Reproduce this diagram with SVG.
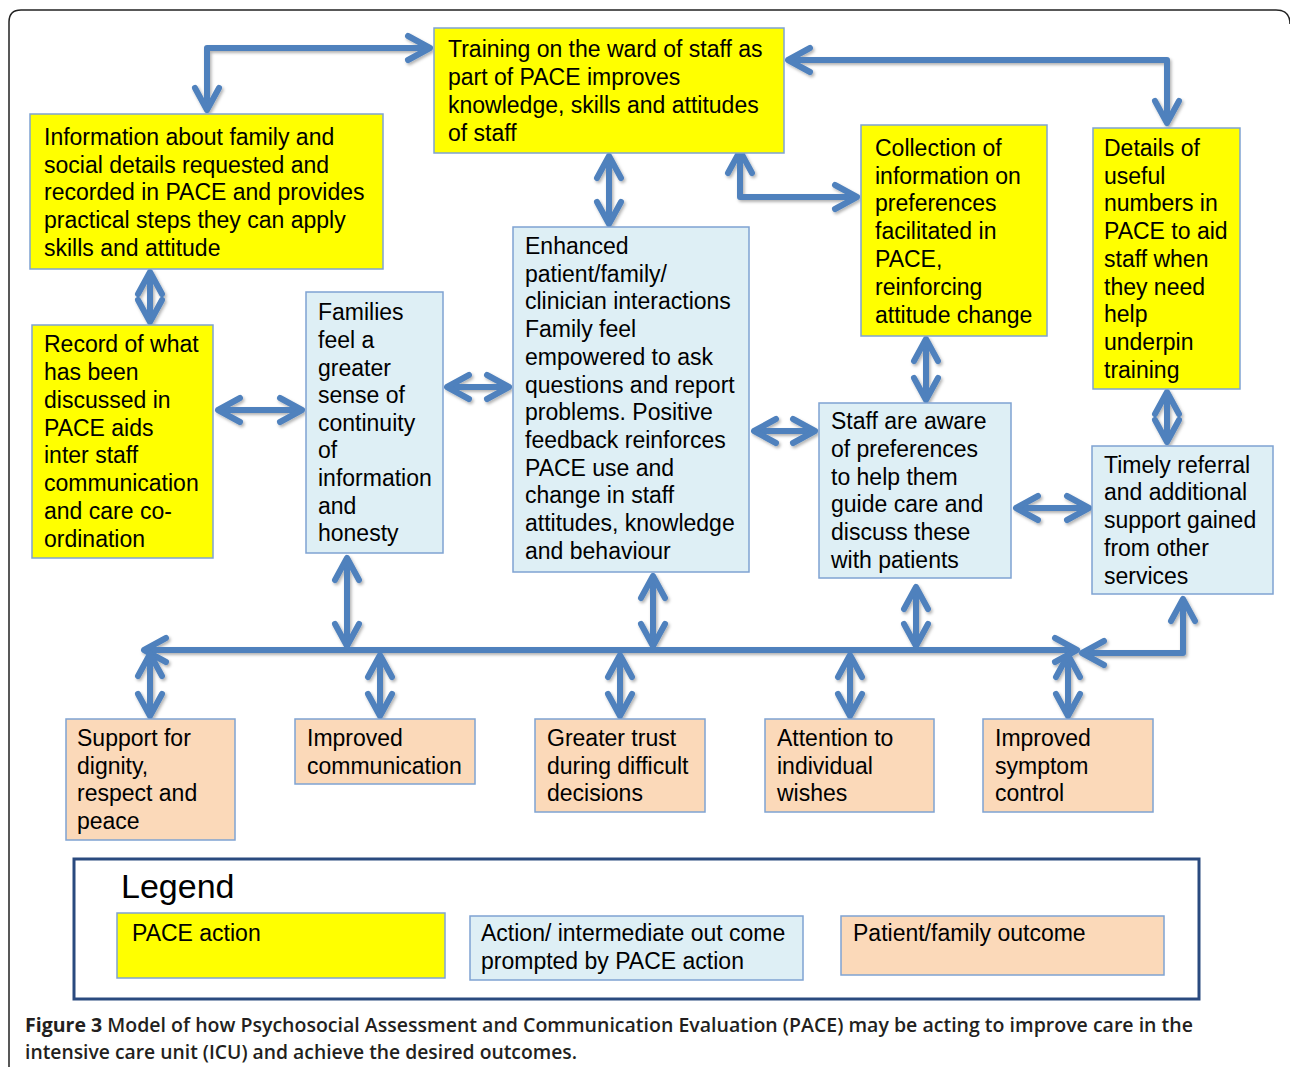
<svg xmlns="http://www.w3.org/2000/svg" width="1290" height="1067" viewBox="0 0 1290 1067">
<defs>
<style>
.t{font-family:"Liberation Sans",Arial,Helvetica,sans-serif;font-size:23px;fill:#000}
.y{fill:#FFFF00;stroke:#7FA3D2;stroke-width:1.5}
.b{fill:#DEEFF5;stroke:#7FA3D2;stroke-width:1.5}
.p{fill:#FBD9B9;stroke:#7FA3D2;stroke-width:1.5}
.c{fill:none;stroke:#4F81BD;stroke-width:6;stroke-linejoin:round}
.cap{font-family:"Open Sans","Liberation Sans",sans-serif;font-size:19px;font-weight:600;fill:#231F20}
</style>
<marker id="ah" viewBox="-28 -16 32 32" refX="0" refY="0" markerWidth="32" markerHeight="32" markerUnits="userSpaceOnUse" orient="auto-start-reverse" overflow="visible">
<path d="M-22,-12 L0,0 L-22,12" fill="none" stroke="#4F81BD" stroke-width="6" stroke-linecap="round" stroke-linejoin="round"/>
</marker>
<filter id="sh" x="-10%" y="-10%" width="120%" height="120%">
<feDropShadow dx="1.5" dy="2" stdDeviation="1.5" flood-color="#000" flood-opacity="0.3"/>
</filter>
</defs>
<rect width="1290" height="1067" fill="#fff"/>
<path d="M9,1067 L9,22 Q9,10 21,10 L1276,10 Q1290,10 1290,24" fill="none" stroke="#222" stroke-width="1.5"/>

<g id="connectors" filter="url(#sh)">
<path class="c" d="M207,110 L207,48 L430,48" marker-start="url(#ah)" marker-end="url(#ah)"/>
<path class="c" d="M788,60 L1167,60 L1167,123" marker-start="url(#ah)" marker-end="url(#ah)"/>
<path class="c" d="M609,156 L609,224" marker-start="url(#ah)" marker-end="url(#ah)"/>
<path class="c" d="M740,151 L740,197 L857,197" marker-start="url(#ah)" marker-end="url(#ah)"/>
<path class="c" d="M150,272 L150,322" marker-start="url(#ah)" marker-end="url(#ah)"/>
<path class="c" d="M218,410 L302,410" marker-start="url(#ah)" marker-end="url(#ah)"/>
<path class="c" d="M447,387 L509,387" marker-start="url(#ah)" marker-end="url(#ah)"/>
<path class="c" d="M754,431 L815,431" marker-start="url(#ah)" marker-end="url(#ah)"/>
<path class="c" d="M926,339 L926,400" marker-start="url(#ah)" marker-end="url(#ah)"/>
<path class="c" d="M1167,392 L1167,442" marker-start="url(#ah)" marker-end="url(#ah)"/>
<path class="c" d="M1016,508 L1089,508" marker-start="url(#ah)" marker-end="url(#ah)"/>
<path class="c" d="M144,650 L1077,650" marker-start="url(#ah)" marker-end="url(#ah)"/>
<path class="c" d="M1183,599 L1183,653 L1082,653" marker-start="url(#ah)" marker-end="url(#ah)"/>
<path class="c" d="M347,558 L347,646" marker-start="url(#ah)" marker-end="url(#ah)"/>
<path class="c" d="M653,576 L653,646" marker-start="url(#ah)" marker-end="url(#ah)"/>
<path class="c" d="M916,587 L916,646" marker-start="url(#ah)" marker-end="url(#ah)"/>
<path class="c" d="M150,654 L150,716" marker-start="url(#ah)" marker-end="url(#ah)"/>
<path class="c" d="M380,655 L380,716" marker-start="url(#ah)" marker-end="url(#ah)"/>
<path class="c" d="M620,655 L620,716" marker-start="url(#ah)" marker-end="url(#ah)"/>
<path class="c" d="M850,655 L850,716" marker-start="url(#ah)" marker-end="url(#ah)"/>
<path class="c" d="M1068,655 L1068,716" marker-start="url(#ah)" marker-end="url(#ah)"/>
</g>

<g id="training">
<rect class="y" x="434" y="28" width="350" height="125"/>
<text class="t"><tspan x="448" y="57">Training on the ward of staff as</tspan><tspan x="448" y="85">part of PACE improves</tspan><tspan x="448" y="113">knowledge, skills and attitudes</tspan><tspan x="448" y="141">of staff</tspan></text>
</g>
<g id="information">
<rect class="y" x="30" y="114" width="353" height="155"/>
<text class="t"><tspan x="44" y="145">Information about family and</tspan><tspan x="44" y="173">social details requested and</tspan><tspan x="44" y="200">recorded in PACE and provides</tspan><tspan x="44" y="228">practical steps they can apply</tspan><tspan x="44" y="256">skills and attitude</tspan></text>
</g>
<g id="collection">
<rect class="y" x="861" y="125" width="186" height="211"/>
<text class="t"><tspan x="875" y="156">Collection of</tspan><tspan x="875" y="184">information on</tspan><tspan x="875" y="211">preferences</tspan><tspan x="875" y="239">facilitated in</tspan><tspan x="875" y="267">PACE,</tspan><tspan x="875" y="295">reinforcing</tspan><tspan x="875" y="323">attitude change</tspan></text>
</g>
<g id="details">
<rect class="y" x="1093" y="128" width="147" height="261"/>
<text class="t"><tspan x="1104" y="156">Details of</tspan><tspan x="1104" y="184">useful</tspan><tspan x="1104" y="211">numbers in</tspan><tspan x="1104" y="239">PACE to aid</tspan><tspan x="1104" y="267">staff when</tspan><tspan x="1104" y="295">they need</tspan><tspan x="1104" y="322">help</tspan><tspan x="1104" y="350">underpin</tspan><tspan x="1104" y="378">training</tspan></text>
</g>
<g id="record">
<rect class="y" x="32" y="325" width="181" height="233"/>
<text class="t"><tspan x="44" y="352">Record of what</tspan><tspan x="44" y="380">has been</tspan><tspan x="44" y="408">discussed in</tspan><tspan x="44" y="436">PACE aids</tspan><tspan x="44" y="463">inter staff</tspan><tspan x="44" y="491">communication</tspan><tspan x="44" y="519">and care co-</tspan><tspan x="44" y="547">ordination</tspan></text>
</g>
<g id="families">
<rect class="b" x="306" y="292" width="137" height="261"/>
<text class="t"><tspan x="318" y="320">Families</tspan><tspan x="318" y="348">feel a</tspan><tspan x="318" y="376">greater</tspan><tspan x="318" y="403">sense of</tspan><tspan x="318" y="431">continuity</tspan><tspan x="318" y="458">of</tspan><tspan x="318" y="486">information</tspan><tspan x="318" y="514">and</tspan><tspan x="318" y="541">honesty</tspan></text>
</g>
<g id="enhanced">
<rect class="b" x="513" y="227" width="236" height="345"/>
<text class="t"><tspan x="525" y="254">Enhanced</tspan><tspan x="525" y="282">patient/family/</tspan><tspan x="525" y="309">clinician interactions</tspan><tspan x="525" y="337">Family feel</tspan><tspan x="525" y="365">empowered to ask</tspan><tspan x="525" y="393">questions and report</tspan><tspan x="525" y="420">problems. Positive</tspan><tspan x="525" y="448">feedback reinforces</tspan><tspan x="525" y="476">PACE use and</tspan><tspan x="525" y="503">change in staff</tspan><tspan x="525" y="531">attitudes, knowledge</tspan><tspan x="525" y="559">and behaviour</tspan></text>
</g>
<g id="staff">
<rect class="b" x="819" y="403" width="192" height="175"/>
<text class="t"><tspan x="831" y="429">Staff are aware</tspan><tspan x="831" y="457">of preferences</tspan><tspan x="831" y="485">to help them</tspan><tspan x="831" y="512">guide care and</tspan><tspan x="831" y="540">discuss these</tspan><tspan x="831" y="568">with patients</tspan></text>
</g>
<g id="timely">
<rect class="b" x="1092" y="446" width="181" height="148"/>
<text class="t"><tspan x="1104" y="473">Timely referral</tspan><tspan x="1104" y="500">and additional</tspan><tspan x="1104" y="528">support gained</tspan><tspan x="1104" y="556">from other</tspan><tspan x="1104" y="584">services</tspan></text>
</g>
<g id="support">
<rect class="p" x="66" y="719" width="169" height="121"/>
<text class="t"><tspan x="77" y="746">Support for</tspan><tspan x="77" y="774">dignity,</tspan><tspan x="77" y="801">respect and</tspan><tspan x="77" y="829">peace</tspan></text>
</g>
<g id="communication">
<rect class="p" x="295" y="719" width="180" height="65"/>
<text class="t"><tspan x="307" y="746">Improved</tspan><tspan x="307" y="774">communication</tspan></text>
</g>
<g id="trust">
<rect class="p" x="535" y="719" width="170" height="93"/>
<text class="t"><tspan x="547" y="746">Greater trust</tspan><tspan x="547" y="774">during difficult</tspan><tspan x="547" y="801">decisions</tspan></text>
</g>
<g id="attention">
<rect class="p" x="765" y="719" width="169" height="93"/>
<text class="t"><tspan x="777" y="746">Attention to</tspan><tspan x="777" y="774">individual</tspan><tspan x="777" y="801">wishes</tspan></text>
</g>
<g id="symptom">
<rect class="p" x="983" y="719" width="170" height="93"/>
<text class="t"><tspan x="995" y="746">Improved</tspan><tspan x="995" y="774">symptom</tspan><tspan x="995" y="801">control</tspan></text>
</g>

<g id="legend">
<rect x="74" y="859" width="1125" height="140" fill="#fff" stroke="#2A4A7F" stroke-width="3"/>
<text class="t" x="121" y="898" style="font-size:34px">Legend</text>
<rect class="y" x="117" y="913" width="328" height="65"/>
<text class="t" x="132" y="941">PACE action</text>
<rect class="b" x="470" y="916" width="333" height="64"/>
<text class="t"><tspan x="481" y="941">Action/ intermediate out come</tspan><tspan x="481" y="969">prompted by PACE action</tspan></text>
<rect class="p" x="841" y="916" width="323" height="59"/>
<text class="t" x="853" y="941">Patient/family outcome</text>
</g>

<g id="caption">
<text class="cap" x="25" y="1032" textLength="1168" lengthAdjust="spacingAndGlyphs"><tspan font-weight="700">Figure 3</tspan> Model of how Psychosocial Assessment and Communication Evaluation (PACE) may be acting to improve care in the</text>
<text class="cap" x="25" y="1059" textLength="552" lengthAdjust="spacingAndGlyphs">intensive care unit (ICU) and achieve the desired outcomes.</text>
</g>
</svg>
